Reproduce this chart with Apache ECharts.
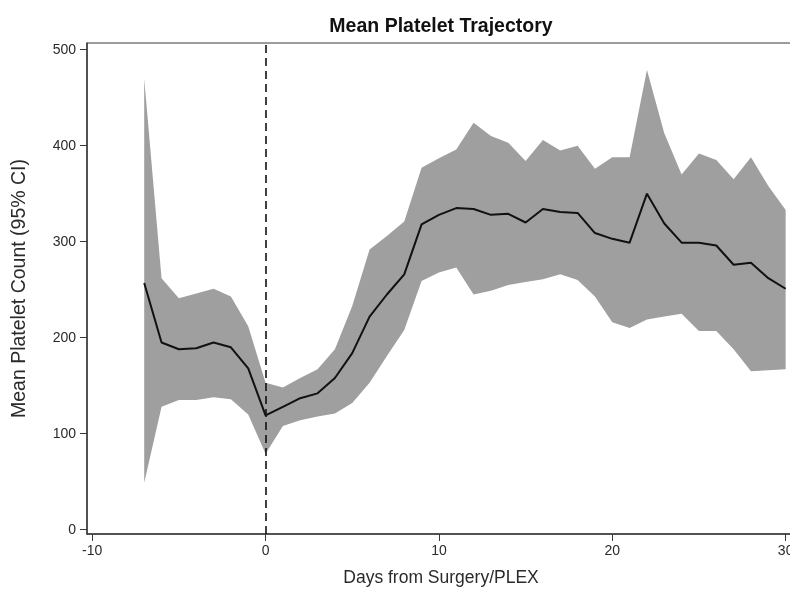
<!DOCTYPE html>
<html>
<head>
<meta charset="utf-8">
<script src="https://cdn.jsdelivr.net/npm/echarts@6/dist/echarts.min.js"></script>
<style>
  html, body { margin: 0; padding: 0; background: #ffffff; }
  #chart { width: 790px; height: 595px; }
</style>
</head>
<body>
<div id="chart"></div>
<script>
// Days relative to surgery / plasma exchange
const days = [-7, -6, -5, -4, -3, -2, -1, 0, 1, 2, 3, 4, 5, 6, 7, 8, 9, 10, 11, 12, 13, 14,
  15, 16, 17, 18, 19, 20, 21, 22, 23, 24, 25, 26, 27, 28, 29, 30];

// Mean platelet count per day
const meanCount = [257, 195, 188, 189, 195, 190, 168, 119, 128, 137, 142, 158, 184, 222, 245,
  266, 318, 328, 335, 334, 328, 329, 320, 334, 331, 330, 309, 303, 299, 350, 319, 299, 299,
  296, 276, 278, 262, 251];

// 95% confidence interval bounds
const ciLower = [49, 128, 135, 135, 138, 136, 120, 79, 108, 114, 118, 121, 132, 153, 181, 208,
  259, 268, 273, 245, 249, 255, 258, 261, 266, 260, 243, 216, 210, 219, 222, 225, 207, 207,
  188, 165, 166, 167];
const ciUpper = [470, 262, 241, 246, 251, 243, 212, 153, 148, 158, 167, 188, 233, 292, 306,
  321, 377, 387, 396, 424, 410, 403, 384, 406, 395, 400, 376, 388, 388, 479, 413, 370, 392,
  385, 365, 388, 358, 333];

// Axis ticks
const xTicks = [-10, 0, 10, 20, 30];
const yTicks = [0, 100, 200, 300, 400, 500];

const FONT = '"Liberation Sans", Arial, sans-serif';
const AXIS_COLOR = '#3a3a3a';
const TEXT_COLOR = '#2a2a2a';

const bandData = days.map((d, i) => [d, ciLower[i], ciUpper[i]]);
const meanData = days.map((d, i) => [d, meanCount[i]]);

// Confidence band: one polygon along the upper bound and back along the lower bound
function renderBand(params, api) {
  if (params.dataIndex !== 0) return null;
  const pts = [];
  for (let i = 0; i < days.length; i++) pts.push(api.coord([days[i], ciUpper[i]]));
  for (let i = days.length - 1; i >= 0; i--) pts.push(api.coord([days[i], ciLower[i]]));
  return {
    type: 'polygon',
    shape: { points: pts },
    style: { fill: '#9f9f9f', stroke: null }
  };
}

const chart = echarts.init(document.getElementById('chart'), null, { renderer: 'canvas' });

chart.setOption({
  animation: false,
  backgroundColor: '#ffffff',
  title: {
    text: 'Mean Platelet Trajectory',
    left: 436,
    top: 12,
    textAlign: 'center',
    textStyle: { fontFamily: FONT, fontSize: 19.5, fontWeight: 'bold', color: '#111' }
  },
  grid: {
    left: 87, right: -5, top: 43, bottom: 61,
    outerBoundsMode: 'none',
    containLabel: false,
    show: true, borderColor: AXIS_COLOR, borderWidth: 1, backgroundColor: 'transparent'
  },
  xAxis: {
    type: 'value',
    min: -10.3, max: 30.54,
    name: 'Days from Surgery/PLEX',
    nameLocation: 'middle',
    nameGap: 35,
    nameTextStyle: { fontFamily: FONT, fontSize: 17.5, color: TEXT_COLOR },
    axisLine: { show: true, onZero: false, lineStyle: { color: AXIS_COLOR, width: 1.5 } },
    axisTick: { show: true, length: 7, customValues: xTicks, lineStyle: { color: AXIS_COLOR } },
    axisLabel: { customValues: xTicks, fontFamily: FONT, fontSize: 14, color: TEXT_COLOR, margin: 10 },
    splitLine: { show: false }
  },
  yAxis: {
    type: 'value',
    min: -4.5, max: 507,
    name: 'Mean Platelet Count (95% CI)',
    nameLocation: 'middle',
    nameGap: 57,
    nameTextStyle: { fontFamily: FONT, fontSize: 19.5, color: TEXT_COLOR },
    axisLine: { show: true, onZero: false, lineStyle: { color: AXIS_COLOR, width: 1.5 } },
    axisTick: { show: true, length: 7, customValues: yTicks, lineStyle: { color: AXIS_COLOR } },
    axisLabel: { customValues: yTicks, fontFamily: FONT, fontSize: 14, color: TEXT_COLOR, margin: 11 },
    splitLine: { show: false }
  },
  series: [
    {
      name: '95% CI',
      type: 'custom',
      data: bandData,
      encode: { x: 0, y: [1, 2] },
      renderItem: renderBand,
      silent: true,
      z: 1
    },
    {
      name: 'Mean',
      type: 'line',
      data: meanData,
      symbol: 'none',
      lineStyle: { color: '#111111', width: 2 },
      z: 4,
      markLine: {
        silent: true,
        symbol: 'none',
        label: { show: false },
        lineStyle: { color: '#111111', type: [8, 5], width: 1.6 },
        data: [{ xAxis: 0 }],
        z: 3
      }
    }
  ]
});
</script>
</body>
</html>
